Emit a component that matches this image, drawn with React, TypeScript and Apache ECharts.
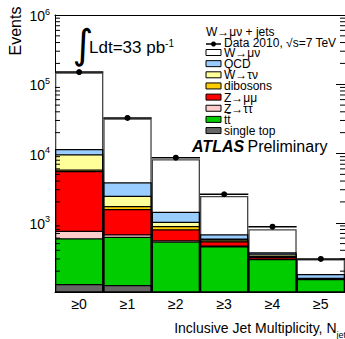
import React, { useEffect, useRef } from 'react';
import * as echarts from 'echarts';

const FONT = '"Liberation Sans", Arial, Helvetica, sans-serif';

const categories = ['≥0', '≥1', '≥2', '≥3', '≥4', '≥5'];
const dataValues = [150000, 32600, 8700, 2580, 877, 300];

// MC components (bottom of the stack first)
const singleTop = [131, 126, 80, 55, 35, 20];
const ttbar = [466, 503, 455, 405, 265, 134];
const zTauTau = [171, 52, 25, 10, 3, 1];
const zMuMu = [4822, 899, 244, 70, 17, 2];
const dibosons = [280, 165, 94, 20, 10, 1];
const wTauNu = [3860, 715, 139, 30, 20, 3];
const qcd = [1870, 1380, 408, 91, 24, 21];
const wMuNu = [136400, 28160, 6805, 1751, 430, 116];

const components = [
  { name: 'single top', values: singleTop, color: '#666666', border: '#000' },
  { name: 'tt\u0304', values: ttbar, color: '#00cc00', border: '#000' },
  { name: 'Z→ττ', values: zTauTau, color: '#ffcccc', border: '#000' },
  { name: 'Z→μμ', values: zMuMu, color: '#ff0000', border: '#000' },
  { name: 'dibosons', values: dibosons, color: '#ffcc00', border: '#000' },
  { name: 'W→τν', values: wTauNu, color: '#ffff99', border: '#000' },
  { name: 'QCD', values: qcd, color: '#99ccff', border: '#000' },
  { name: 'W→μν', values: wMuNu, color: '#ffffff', border: '#444' },
];

const yMin = 100;
const yMax = 1e6;
const minorTickValues: number[] = [];
for (let e = 2; e < 6; e++) {
  for (let m = 2; m <= 9; m++) minorTickValues.push(m * Math.pow(10, e));
}

export default function App() {
  const ref = useRef<HTMLDivElement>(null);
  useEffect(() => {
    document.body.style.margin = '0';
    if (!ref.current) return;
    const chart = echarts.init(ref.current, undefined, { renderer: 'svg' });

    // cumulative stacks
    const cum: number[][] = [];
    let running = categories.map(() => 0);
    components.forEach((c) => {
      running = running.map((r, i) => r + c.values[i]);
      cum.push(running.slice());
    });

    const barSeries = components
      .map((c, idx) => ({
        type: 'bar',
        name: c.name,
        data: cum[idx],
        barGap: '-100%',
        barCategoryGap: '0%',
        clip: true,
        itemStyle: { color: c.color, borderColor: c.border, borderWidth: 1.3 },
        emphasis: { disabled: true },
        silent: true,
      }))
      .reverse();

    const legendItems = components.slice().reverse();
    const legendGraphics: any[] = [];
    legendItems.forEach((c, i) => {
      const cy = 52.5 + i * 11.15;
      legendGraphics.push({
        type: 'rect',
        shape: { x: 206, y: cy - 3, width: 15, height: 6 },
        style: { fill: c.color, stroke: '#000', lineWidth: 1 },
      });
      legendGraphics.push({
        type: 'text',
        x: 224,
        y: cy + 0.5,
        style: { text: c.name, fontSize: 12, lineHeight: 10, fontFamily: FONT, fill: '#000', verticalAlign: 'middle' },
      });
    });

    const option: any = {
      animation: false,
      backgroundColor: '#ffffff',
      grid: { left: 55, top: 15, width: 290, height: 277 },
      xAxis: [
        {
          type: 'category',
          data: categories,
          position: 'bottom',
          axisLine: { lineStyle: { color: '#000', width: 1 } },
          axisTick: { inside: true, length: 6, lineStyle: { color: '#000', width: 1 } },
          axisLabel: { color: '#000', fontSize: 14, fontFamily: FONT, margin: 5 },
          splitLine: { show: false },
        },
        {
          type: 'category',
          data: categories,
          position: 'top',
          axisLine: { lineStyle: { color: '#000', width: 1 } },
          axisTick: { inside: true, length: 6, lineStyle: { color: '#000', width: 1 } },
          axisLabel: { show: false },
          splitLine: { show: false },
        },
      ],
      yAxis: [
        {
          type: 'log',
          logBase: 10,
          min: yMin,
          max: yMax,
          position: 'left',
          axisLine: { show: true, lineStyle: { color: '#000', width: 1 } },
          axisTick: { show: true, inside: true, length: 10, lineStyle: { color: '#000', width: 1 } },
          splitLine: { show: false },
          axisLabel: {
            margin: 5,
            formatter: (v: number) => {
              const e = Math.round(Math.log10(v));
              if (e <= 2) return '';
              return `{a|10}{s|${e}}`;
            },
            rich: {
              a: { fontSize: 14, fontFamily: FONT, color: '#000', lineHeight: 16, verticalAlign: 'bottom' },
              s: { fontSize: 9, fontFamily: FONT, color: '#000', lineHeight: 9, verticalAlign: 'top' },
            },
          },
        },
        {
          type: 'log',
          logBase: 10,
          min: yMin,
          max: yMax,
          position: 'right',
          axisLine: { show: true, lineStyle: { color: '#000', width: 1 } },
          axisTick: { show: true, inside: true, length: 9, lineStyle: { color: '#000', width: 1 } },
          splitLine: { show: false },
          axisLabel: { show: false },
        },
      ],
      series: [
        ...barSeries,
        {
          type: 'custom',
          name: 'minor ticks',
          data: minorTickValues.map((v) => [0, v]),
          silent: true,
          z: 5,
          renderItem: (params: any, api: any) => {
            const y = api.coord([0, api.value(1)])[1];
            const cs = params.coordSys;
            return {
              type: 'group',
              children: [
                { type: 'line', shape: { x1: cs.x, y1: y, x2: cs.x + 5, y2: y }, style: { stroke: '#000', lineWidth: 1 } },
                { type: 'line', shape: { x1: cs.x + cs.width - 5, y1: y, x2: cs.x + cs.width, y2: y }, style: { stroke: '#000', lineWidth: 1 } },
              ],
            };
          },
        },
        {
          type: 'custom',
          name: 'Data 2010',
          data: dataValues.map((v, i) => [i, v]),
          silent: true,
          z: 10,
          renderItem: (params: any, api: any) => {
            const pt = api.coord([api.value(0), api.value(1)]);
            const w = api.size([1, 0])[0];
            return {
              type: 'group',
              children: [
                { type: 'line', shape: { x1: pt[0] - w / 2, y1: pt[1], x2: pt[0] + w / 2, y2: pt[1] }, style: { stroke: '#000', lineWidth: 1.6 } },
                { type: 'circle', shape: { cx: pt[0], cy: pt[1], r: 3 }, style: { fill: '#000' } },
              ],
            };
          },
        },
      ],
      graphic: [
        {
          type: 'text',
          x: 15,
          y: 31,
          rotation: Math.PI / 2,
          style: { text: 'Events', fontSize: 16, fontFamily: FONT, fill: '#000', align: 'center', verticalAlign: 'middle' },
        },
        {
          type: 'text',
          x: 83,
          y: 44,
          style: { text: '∫', fontSize: 40, fontFamily: '"DejaVu Sans"', fill: '#000', align: 'center', verticalAlign: 'middle' },
        },
        {
          type: 'text',
          x: 89,
          y: 47,
          style: {
            text: '{a|Ldt=33 pb}{s|-1}',
            verticalAlign: 'middle',
            rich: {
              a: { fontSize: 17, fontFamily: FONT, fill: '#000', lineHeight: 18, verticalAlign: 'bottom' },
              s: { fontSize: 10, fontFamily: FONT, fill: '#000', lineHeight: 10, verticalAlign: 'top' },
            },
          },
        },
        {
          type: 'text',
          x: 206,
          y: 32,
          style: { text: 'W→μν + jets', fontSize: 12, lineHeight: 10, fontFamily: FONT, fill: '#000', verticalAlign: 'middle' },
        },
        { type: 'line', shape: { x1: 206, y1: 44, x2: 221, y2: 44 }, style: { stroke: '#000', lineWidth: 1.5 } },
        { type: 'circle', shape: { cx: 213.5, cy: 44, r: 2.5 }, style: { fill: '#000' } },
        {
          type: 'text',
          x: 224,
          y: 43,
          style: { text: 'Data 2010, √s=7 TeV', fontSize: 12, lineHeight: 10, fontFamily: FONT, fill: '#000', verticalAlign: 'middle' },
        },
        ...legendGraphics,
        {
          type: 'text',
          x: 192,
          y: 146,
          style: {
            text: '{b|ATLAS} {r|Preliminary}',
            verticalAlign: 'middle',
            rich: {
              b: { fontSize: 16, fontFamily: FONT, fontWeight: 'bold', fontStyle: 'italic', fill: '#000' },
              r: { fontSize: 16, fontFamily: FONT, fill: '#000' },
            },
          },
        },
        {
          type: 'text',
          x: 346,
          y: 330,
          style: {
            text: '{a|Inclusive Jet Multiplicity, N}{s|jet}',
            align: 'right',
            verticalAlign: 'middle',
            rich: {
              a: { fontSize: 14, fontFamily: FONT, fill: '#000', lineHeight: 18, verticalAlign: 'top' },
              s: { fontSize: 9, fontFamily: FONT, fill: '#000', lineHeight: 9, verticalAlign: 'bottom' },
            },
          },
        },
      ],
    };
    chart.setOption(option);
    return () => chart.dispose();
  }, []);
  return (
    <div
      ref={ref}
      style={{ position: 'absolute', left: 0, top: 0, width: 345, height: 339, background: '#fff' }}
    />
  );
}
